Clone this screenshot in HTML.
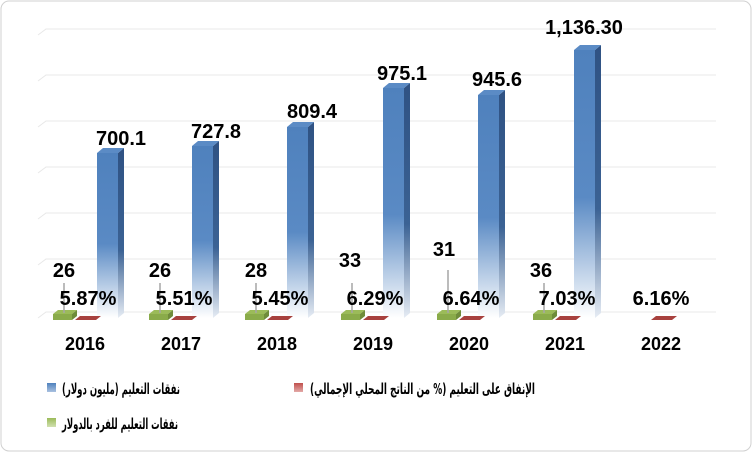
<!DOCTYPE html>
<html><head><meta charset="utf-8"><style>
body{margin:0;background:#fff}
svg{display:block;font-family:"Liberation Sans","DejaVu Sans",sans-serif}
</style></head><body>
<svg width="752" height="452" viewBox="0 0 752 452">
<defs>
<linearGradient id="bf" x1="0" y1="0" x2="0" y2="1">
<stop offset="0" stop-color="#4f81bd"/><stop offset="0.55" stop-color="#5a8ac4"/><stop offset="1" stop-color="#ffffff"/></linearGradient>
<linearGradient id="bs" x1="0" y1="0" x2="0" y2="1">
<stop offset="0" stop-color="#2f5283"/><stop offset="0.6" stop-color="#3b6294"/><stop offset="1" stop-color="#e6ecf4"/></linearGradient>
<linearGradient id="lb" x1="0" y1="0" x2="0" y2="1"><stop offset="0" stop-color="#4f81bd"/><stop offset="1" stop-color="#a9c1e0"/></linearGradient>
<linearGradient id="lr" x1="0" y1="0" x2="0" y2="1"><stop offset="0" stop-color="#c0504d"/><stop offset="1" stop-color="#e3a9a7"/></linearGradient>
<linearGradient id="lg" x1="0" y1="0" x2="0" y2="1"><stop offset="0" stop-color="#9bbb59"/><stop offset="1" stop-color="#d1e0b0"/></linearGradient>
</defs>
<rect x="1" y="1" width="750" height="450" rx="8" fill="#fff" stroke="#d0d0d0"/>
<g stroke="#e8e8e8" stroke-width="1" fill="none">
<path d="M38 35 L46 29 H716 M38 81 L46 75 H716 M38 127 L46 121 H716 M38 173 L46 167 H716 M38 219 L46 213 H716 M38 265 L46 259 H716 M38 318 L46 312 H716"/>
</g>
<g>
<path d="M97 153 H118 V318 H97Z" fill="url(#bf)"/><path d="M118 153 L124 148 V313 L118 318Z" fill="url(#bs)"/><path d="M97 153 L103 148 H124 L118 153Z" fill="#5b8bc5"/>
<path d="M192 146 H213 V318 H192Z" fill="url(#bf)"/><path d="M213 146 L219 141 V313 L213 318Z" fill="url(#bs)"/><path d="M192 146 L198 141 H219 L213 146Z" fill="#5b8bc5"/>
<path d="M287 127 H308 V318 H287Z" fill="url(#bf)"/><path d="M308 127 L314 122 V313 L308 318Z" fill="url(#bs)"/><path d="M287 127 L293 122 H314 L308 127Z" fill="#5b8bc5"/>
<path d="M383 88 H404 V318 H383Z" fill="url(#bf)"/><path d="M404 88 L410 83 V313 L404 318Z" fill="url(#bs)"/><path d="M383 88 L389 83 H410 L404 88Z" fill="#5b8bc5"/>
<path d="M478 95 H499 V318 H478Z" fill="url(#bf)"/><path d="M499 95 L505 90 V313 L499 318Z" fill="url(#bs)"/><path d="M478 95 L484 90 H505 L499 95Z" fill="#5b8bc5"/>
<path d="M574 50 H595 V318 H574Z" fill="url(#bf)"/><path d="M595 50 L601 45 V313 L595 318Z" fill="url(#bs)"/><path d="M574 50 L580 45 H601 L595 50Z" fill="#5b8bc5"/>
</g>
<g>
<g><path d="M53 314 L58 310 H77 L72 314Z" fill="#9bbb59"/><path d="M53 314 H72 V320 H53Z" fill="#8aab4a"/><path d="M72 314 L77 310 V316 L72 320Z" fill="#6f8c3a"/><path d="M75 320 L80 316 H101 L96 320Z" fill="#a8413e"/></g>
<g transform="translate(96,0)"><path d="M53 314 L58 310 H77 L72 314Z" fill="#9bbb59"/><path d="M53 314 H72 V320 H53Z" fill="#8aab4a"/><path d="M72 314 L77 310 V316 L72 320Z" fill="#6f8c3a"/><path d="M75 320 L80 316 H101 L96 320Z" fill="#a8413e"/></g>
<g transform="translate(192,0)"><path d="M53 314 L58 310 H77 L72 314Z" fill="#9bbb59"/><path d="M53 314 H72 V320 H53Z" fill="#8aab4a"/><path d="M72 314 L77 310 V316 L72 320Z" fill="#6f8c3a"/><path d="M75 320 L80 316 H101 L96 320Z" fill="#a8413e"/></g>
<g transform="translate(288,0)"><path d="M53 314 L58 310 H77 L72 314Z" fill="#9bbb59"/><path d="M53 314 H72 V320 H53Z" fill="#8aab4a"/><path d="M72 314 L77 310 V316 L72 320Z" fill="#6f8c3a"/><path d="M75 320 L80 316 H101 L96 320Z" fill="#a8413e"/></g>
<g transform="translate(384,0)"><path d="M53 314 L58 310 H77 L72 314Z" fill="#9bbb59"/><path d="M53 314 H72 V320 H53Z" fill="#8aab4a"/><path d="M72 314 L77 310 V316 L72 320Z" fill="#6f8c3a"/><path d="M75 320 L80 316 H101 L96 320Z" fill="#a8413e"/></g>
<g transform="translate(480,0)"><path d="M53 314 L58 310 H77 L72 314Z" fill="#9bbb59"/><path d="M53 314 H72 V320 H53Z" fill="#8aab4a"/><path d="M72 314 L77 310 V316 L72 320Z" fill="#6f8c3a"/><path d="M75 320 L80 316 H101 L96 320Z" fill="#a8413e"/></g>
<g transform="translate(576,0)"><path d="M75 320 L80 316 H101 L96 320Z" fill="#a8413e"/></g>
</g>
<g stroke="#a6a6a6" stroke-width="1.5" fill="none">
<path d="M64 283 V313 M160 283 V313 M256 283 V313 M352 283 V313 M448 270 V313 M544 283 V313"/>
</g>
<g font-weight="bold" font-size="20" fill="#000" text-anchor="middle">
<text x="121" y="145">700.1</text><text x="216" y="138">727.8</text><text x="312" y="118">809.4</text>
<text x="402" y="80">975.1</text><text x="497" y="86">945.6</text><text x="584" y="34">1,136.30</text>
<text x="64" y="277">26</text><text x="160" y="277">26</text><text x="256" y="277">28</text>
<text x="350" y="267">33</text><text x="444" y="256">31</text><text x="541" y="277">36</text>
<text x="88" y="305">5.87%</text><text x="184" y="305">5.51%</text><text x="280" y="305">5.45%</text>
<text x="375" y="305">6.29%</text><text x="471" y="305">6.64%</text><text x="567" y="305">7.03%</text><text x="661" y="305">6.16%</text>
</g>
<g font-weight="bold" font-size="18" fill="#000" text-anchor="middle">
<text x="85" y="350">2016</text><text x="181" y="350">2017</text><text x="277" y="350">2018</text><text x="373" y="350">2019</text><text x="469" y="350">2020</text><text x="565" y="350">2021</text><text x="661" y="350">2022</text>
</g>
<g font-weight="bold" font-size="15" fill="#000" font-family="'DejaVu Sans','Liberation Sans',sans-serif">
<rect x="47" y="383" width="9" height="9" fill="url(#lb)"/>
<text x="180" y="394" text-anchor="start" direction="rtl" textLength="118" lengthAdjust="spacingAndGlyphs">نفقات التعليم (مليون دولار)</text>
<rect x="294" y="383" width="9" height="9" fill="url(#lr)"/>
<text x="535" y="394" text-anchor="start" direction="rtl" textLength="225" lengthAdjust="spacingAndGlyphs">الإنفاق على التعليم (% من الناتج المحلي الإجمالي)</text>
<rect x="47" y="418" width="9" height="9" fill="url(#lg)"/>
<text x="178" y="429" text-anchor="start" direction="rtl" textLength="116" lengthAdjust="spacingAndGlyphs">نفقات التعليم للفرد بالدولار</text>
</g>
</svg>
</body></html>
